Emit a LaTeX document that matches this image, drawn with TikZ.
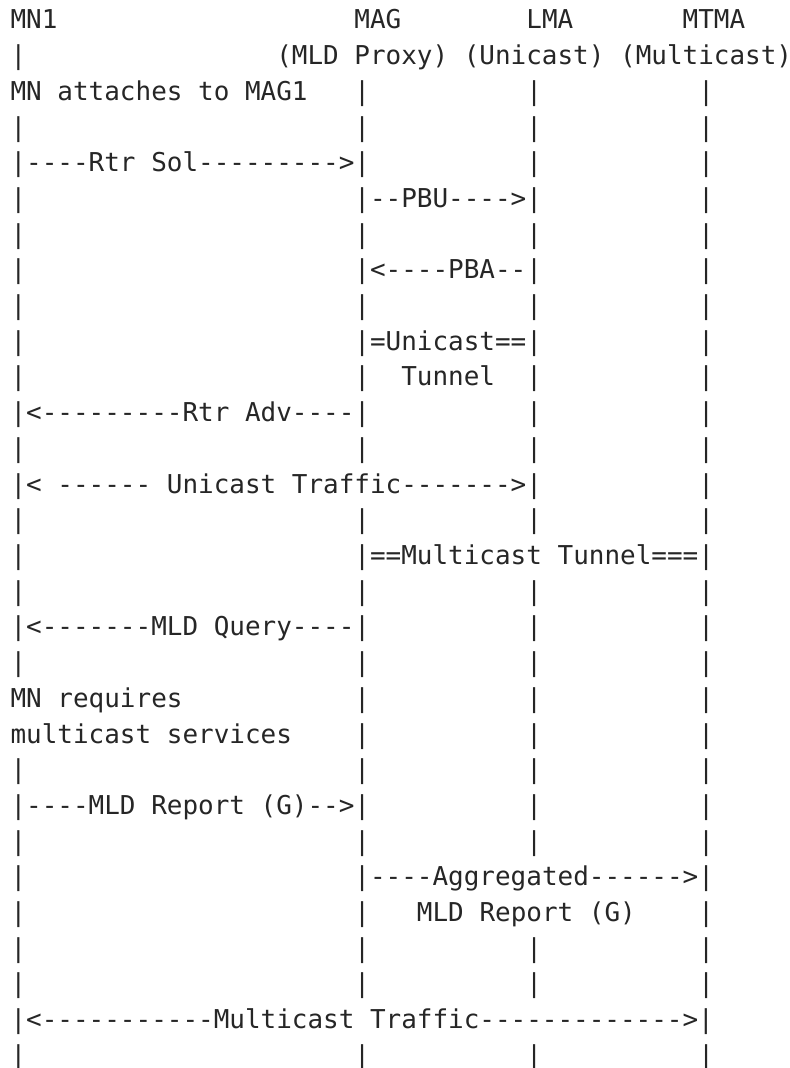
\documentclass[tikz,border=0pt]{standalone}
\usepackage{fontspec}
\setmonofont{DejaVu Sans Mono}

\begin{document}
\begin{tikzpicture}[x=7.815pt,y=-17.85pt,
                    ascii/.style={font=\ttfamily\fontsize{12.98}{16}\selectfont,text=black!85,inner sep=0pt,anchor=base west}]
      \useasboundingbox (-5.1pt,-3.35pt) rectangle (389.9pt,-537.35pt);

      \node[ascii] (mn1) at (0,1) {MN1};
      \node[ascii] (mag) at (22,1) {MAG};
      \node[ascii] (lma) at (33,1) {LMA};
      \node[ascii] (mtma) at (43,1) {MTMA};
      \node[ascii] (roles) at (17,2) {(MLD Proxy) (Unicast) (Multicast)};

      \foreach \r/\cols in {2/{0},3/{22,33,44},4/{0,22,33,44},5/{33,44},6/{0,44},7/{0,22,33,44},
                           8/{0,44},9/{0,22,33,44},10/{0,44},11/{0,22,33,44},12/{33,44},13/{0,22,33,44},
                           14/{44},15/{0,22,33,44},16/{0},17/{0,22,33,44},18/{33,44},19/{0,22,33,44},
                           20/{22,33,44},21/{22,33,44},22/{0,22,33,44},23/{33,44},24/{0,22,33,44},
                           25/{0},26/{0,22,44},27/{0,22,33,44},28/{0,22,33,44},30/{0,22,33,44}} {
        \foreach \c in \cols {
          \node[ascii] (l\r-\c) at (\c,\r) {|};
        }
      }

      \node[ascii] (attach) at (0,3) {MN attaches to MAG1};
      \node[ascii] (rtrsol) at (0,5) {|----Rtr Sol--------->|};
      \node[ascii] (pbu) at (22,6) {|--PBU---->|};
      \node[ascii] (pba) at (22,8) {|<----PBA--|};
      \node[ascii] (utun) at (22,10) {|=Unicast==|};
      \node[ascii] (utun2) at (25,11) {Tunnel};
      \node[ascii] (rtradv) at (0,12) {|<---------Rtr Adv----|};
      \node[ascii] (utraffic) at (0,14) {|< ------ Unicast Traffic------->|};
      \node[ascii] (mtun) at (22,16) {|==Multicast Tunnel===|};
      \node[ascii] (query) at (0,18) {|<-------MLD Query----|};
      \node[ascii] (req) at (0,20) {MN requires};
      \node[ascii] (req2) at (0,21) {multicast services};
      \node[ascii] (report) at (0,23) {|----MLD Report (G)-->|};
      \node[ascii] (aggr) at (22,25) {|----Aggregated------>|};
      \node[ascii] (aggr2) at (26,26) {MLD Report (G)};
      \node[ascii] (mtraffic) at (0,29) {|<-----------Multicast Traffic------------->|};
    \end{tikzpicture}
\end{document}
